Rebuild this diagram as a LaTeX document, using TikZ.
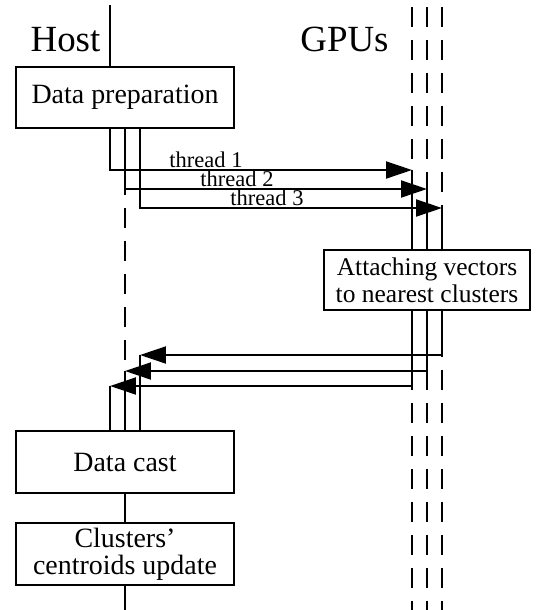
\documentclass[tikz,border=0pt]{standalone}
\usepackage{fontspec}
\setmainfont{Liberation Serif}
\usetikzlibrary{arrows.meta,backgrounds}

\begin{document}
\begin{tikzpicture}[
    x=0.02cm, y=-0.02cm,
    every node/.style={inner sep=0pt},
    head/.style={anchor=base, font=\fontsize{21}{24}\selectfont},
    box/.style={draw, fill=white, line width=0.04cm, align=center, minimum width=4.36cm, minimum height=1.22cm, font=\fontsize{15.9}{15.3}\selectfont},
    gpubox/.style={box, minimum width=4.12cm, minimum height=1.2cm, font=\fontsize{14.5}{15.3}\selectfont},
    tlabel/.style={anchor=base, font=\fontsize{12.8}{15}\selectfont},
    lane/.style={line width=0.04cm},
    lifeline/.style={line width=0.04cm, dash pattern=on 0.4cm off 0.26cm},
    flow/.style={-{Triangle[length=0.52cm, width=0.34cm]}, line width=0.04cm}
]
\useasboundingbox (0,0) rectangle (537,610);
\node[head] (host) at (65.5,51) {Host};
\node[head] (gpus) at (344.5,51) {GPUs};
\node[box] (prep) at (125,97.5) {Data preparation};
\node[gpubox] (attach) at (427,280) {Attaching vectors\\to nearest clusters};
\node[box, minimum height=1.24cm] (cast) at (125,462) {Data cast};
\node[box, minimum height=1.24cm] (update) at (125,554) {Clusters’\\centroids update};
\node[tlabel] (lab1) at (206,167) {thread 1};
\node[tlabel] (lab2) at (237,186) {thread 2};
\node[tlabel] (lab3) at (267,205) {thread 3};
\coordinate (hosttop) at (110,5);
\coordinate (hostend) at (125,610);
\coordinate (gtop) at (0,7);
\coordinate (gend) at (0,610);
\coordinate (h1) at (110,0);
\coordinate (h2) at (125,0);
\coordinate (h3) at (140,0);
\coordinate (g1) at (412,0);
\coordinate (g2) at (427,0);
\coordinate (g3) at (442,0);
\coordinate (t1) at (412,170);
\coordinate (t2) at (427,189);
\coordinate (t3) at (442,208);
\coordinate (r1) at (110,386);
\coordinate (r2) at (125,371);
\coordinate (r3) at (140,355);
\begin{scope}[on background layer]
\draw[lifeline] (g1 |- gtop) -- (g1 |- gend);
\draw[lifeline] (g2 |- gtop) -- (g2 |- gend);
\draw[lifeline] (g3 |- gtop) -- (g3 |- gend);
\draw[lifeline, dash phase=0.4cm] (prep.south -| h2) -- (r2);
\end{scope}
\draw[lane] (hosttop) -- (prep.north -| hosttop);
\draw[flow] (prep.south -| h1) |- (t1);
\draw[flow] (prep.south -| h2) |- (t2);
\draw[flow] (prep.south -| h3) |- (t3);
\draw[lane] (t1) -- (attach.north -| t1);
\draw[lane] (t2) -- (attach.north -| t2);
\draw[lane] (t3) -- (attach.north -| t3);
\draw[flow] (attach.south -| g1) |- (r1);
\draw[flow] (attach.south -| g2) |- (r2);
\draw[flow] (attach.south -| g3) |- (r3);
\draw[lane] (r1) -- (cast.north -| r1);
\draw[lane] (r2) -- (cast.north -| r2);
\draw[lane] (r3) -- (cast.north -| r3);
\draw[lane] (cast) -- (update);
\draw[lane] (update) -- (hostend);
\end{tikzpicture}
\end{document}
